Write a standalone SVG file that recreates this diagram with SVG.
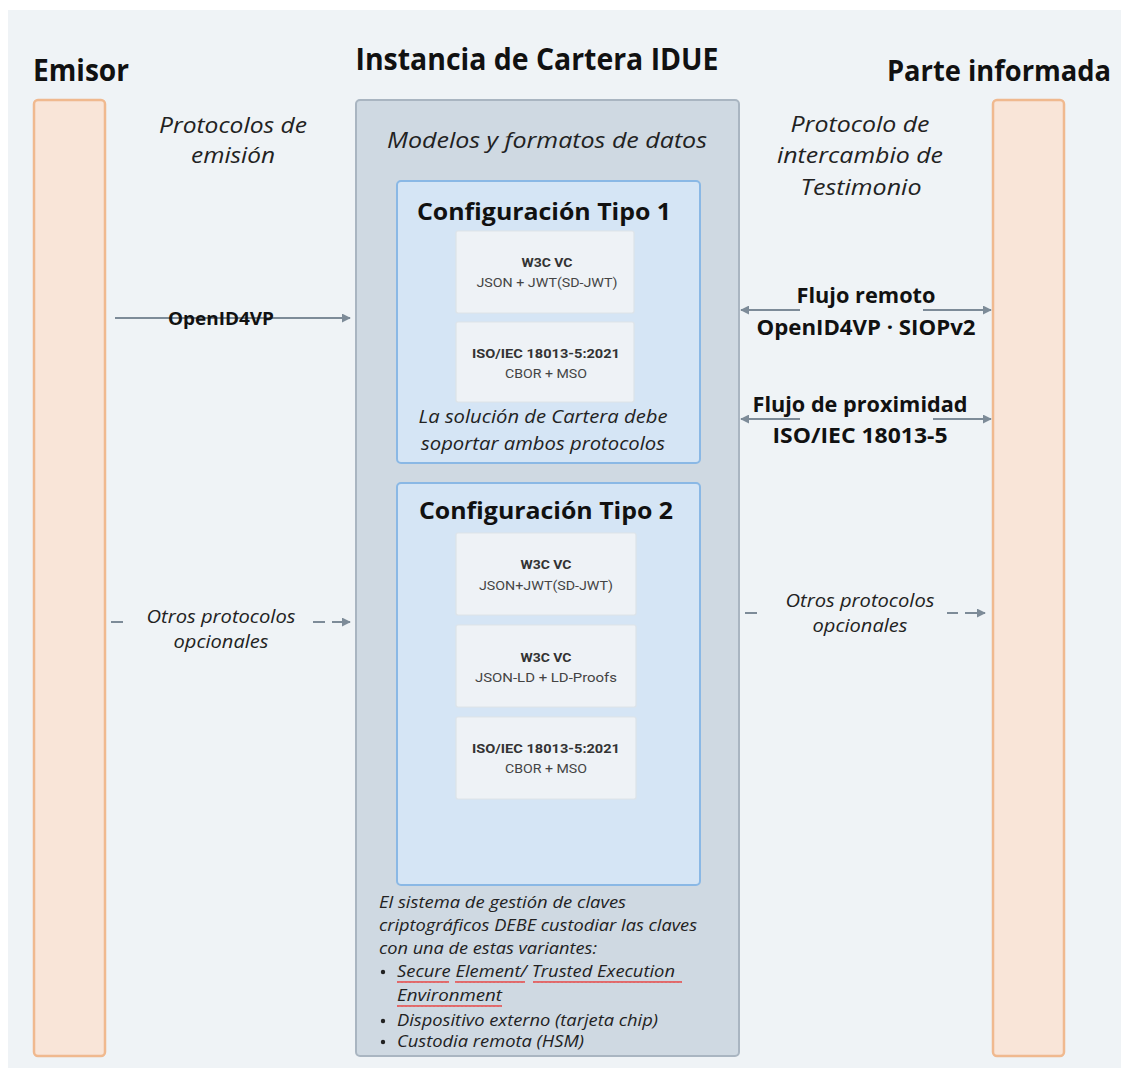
<svg xmlns="http://www.w3.org/2000/svg" width="1121" height="1068" viewBox="0 0 1121 1068">
<defs>
<marker id="ah" viewBox="0 0 10 10" refX="9" refY="5" markerWidth="4.5" markerHeight="4.5" orient="auto-start-reverse" markerUnits="strokeWidth">
<path d="M0,0 L10,5 L0,10 z" fill="#7d8b98"/>
</marker>
<pattern id="sq" width="4" height="4" patternUnits="userSpaceOnUse">
<path d="M0,3 L1,1 L2,3 L3,1 L4,3" fill="none" stroke="#e8423f" stroke-width="0.9"/>
</pattern>
</defs>
<style>
.t{font-family:"Open Sans","Noto Sans","DejaVu Sans",sans-serif;fill:#111}
.h{font-weight:700;font-size:31px}
.it{font-style:italic;fill:#222}
.b{font-weight:700}
.sm{font-family:Roboto,"Noto Sans","DejaVu Sans",sans-serif;font-size:12px;fill:#444}
.smb{font-family:Roboto,"Noto Sans","DejaVu Sans",sans-serif;font-size:12px;font-weight:700;fill:#333}
.bar{fill:#f9e5d8;stroke:#f0b98f;stroke-width:2.5}
.card{fill:#eef2f6;stroke:#dde3e8;stroke-width:1.2}
.cfg{fill:#d5e5f5;stroke:#8ab8e5;stroke-width:2}
.ln{fill:none;stroke:#7d8b98;stroke-width:2}
.dl{fill:none;stroke:#7d8b98;stroke-width:2}
</style>
<rect x="0" y="0" width="1121" height="1068" fill="#ffffff"/>
<rect x="8" y="10" width="1113" height="1058" fill="#eff3f6"/>

<g id="emisor">
<rect class="bar" x="34" y="100" width="71" height="956" rx="4"/>
<text class="t h" x="33" y="81" textLength="96" lengthAdjust="spacingAndGlyphs">Emisor</text>
</g>

<g id="parte-informada">
<rect class="bar" x="993" y="100" width="71" height="956" rx="4"/>
<text class="t b" x="999" y="81" font-size="28" text-anchor="middle" textLength="224" lengthAdjust="spacingAndGlyphs">Parte informada</text>
</g>

<g id="cartera">
<rect x="356" y="100" width="383" height="956" rx="4" fill="#cfd9e2" stroke="#a9b5c1" stroke-width="2"/>
<text class="t h" x="537" y="70" text-anchor="middle" textLength="363" lengthAdjust="spacingAndGlyphs">Instancia de Cartera IDUE</text>
<text class="t it" x="547" y="148" font-size="22" text-anchor="middle" textLength="320" lengthAdjust="spacingAndGlyphs">Modelos y formatos de datos</text>
</g>

<g id="config-tipo-1">
<rect class="cfg" x="397" y="181" width="303" height="282" rx="4"/>
<text class="t b" x="544" y="220" font-size="24" text-anchor="middle" textLength="254" lengthAdjust="spacingAndGlyphs">Configuración Tipo 1</text>
<rect class="card" x="456" y="231" width="178" height="82" rx="2"/>
<text class="smb" x="547" y="267" text-anchor="middle" textLength="51" lengthAdjust="spacingAndGlyphs">W3C VC</text>
<text class="sm" x="547" y="287" text-anchor="middle" textLength="141" lengthAdjust="spacingAndGlyphs">JSON + JWT(SD-JWT)</text>
<rect class="card" x="456" y="322" width="178" height="80" rx="2"/>
<text class="smb" x="546" y="358" text-anchor="middle" textLength="148" lengthAdjust="spacingAndGlyphs">ISO/IEC 18013-5:2021</text>
<text class="sm" x="546" y="378" text-anchor="middle" textLength="82" lengthAdjust="spacingAndGlyphs">CBOR + MSO</text>
<text class="t it" x="543" y="423" font-size="19" text-anchor="middle" textLength="249" lengthAdjust="spacingAndGlyphs">La solución de Cartera debe</text>
<text class="t it" x="543" y="450" font-size="19" text-anchor="middle" textLength="244" lengthAdjust="spacingAndGlyphs">soportar ambos protocolos</text>
</g>

<g id="config-tipo-2">
<rect class="cfg" x="397" y="483" width="303" height="402" rx="4"/>
<text class="t b" x="546" y="519" font-size="24" text-anchor="middle" textLength="254" lengthAdjust="spacingAndGlyphs">Configuración Tipo 2</text>
<rect class="card" x="456" y="533" width="180" height="82" rx="2"/>
<text class="smb" x="546" y="569" text-anchor="middle" textLength="51" lengthAdjust="spacingAndGlyphs">W3C VC</text>
<text class="sm" x="546" y="590" text-anchor="middle" textLength="134" lengthAdjust="spacingAndGlyphs">JSON+JWT(SD-JWT)</text>
<rect class="card" x="456" y="625" width="180" height="82" rx="2"/>
<text class="smb" x="546" y="662" text-anchor="middle" textLength="51" lengthAdjust="spacingAndGlyphs">W3C VC</text>
<text class="sm" x="546" y="682" text-anchor="middle" textLength="142" lengthAdjust="spacingAndGlyphs">JSON-LD + LD-Proofs</text>
<rect class="card" x="456" y="717" width="180" height="82" rx="2"/>
<text class="smb" x="546" y="753" text-anchor="middle" textLength="148" lengthAdjust="spacingAndGlyphs">ISO/IEC 18013-5:2021</text>
<text class="sm" x="546" y="773" text-anchor="middle" textLength="82" lengthAdjust="spacingAndGlyphs">CBOR + MSO</text>
</g>

<g id="gestion-claves">
<text class="t it" x="379" y="908" font-size="16" textLength="247" lengthAdjust="spacingAndGlyphs">El sistema de gestión de claves</text>
<text class="t it" x="379" y="931" font-size="16" textLength="318" lengthAdjust="spacingAndGlyphs">criptográficos DEBE custodiar las claves</text>
<text class="t it" x="379" y="954" font-size="16" textLength="218" lengthAdjust="spacingAndGlyphs">con una de estas variantes:</text>
<circle cx="383" cy="972" r="2.2" fill="#222"/>
<text class="t it" x="397" y="977" font-size="16" textLength="278" lengthAdjust="spacingAndGlyphs">Secure Element/ Trusted Execution</text>
<text class="t it" x="397" y="1001" font-size="16" textLength="105" lengthAdjust="spacingAndGlyphs">Environment</text>
<circle cx="383" cy="1021" r="2.2" fill="#222"/>
<text class="t it" x="397" y="1026" font-size="16" textLength="261" lengthAdjust="spacingAndGlyphs">Dispositivo externo (tarjeta chip)</text>
<circle cx="383" cy="1042" r="2.2" fill="#222"/>
<text class="t it" x="397" y="1047" font-size="16" textLength="187" lengthAdjust="spacingAndGlyphs">Custodia remota (HSM)</text>
<rect x="397" y="981" width="52" height="4" fill="url(#sq)"/>
<rect x="455" y="981" width="70" height="4" fill="url(#sq)"/>
<rect x="533" y="981" width="149" height="4" fill="url(#sq)"/>
<rect x="397" y="1005" width="105" height="4" fill="url(#sq)"/>
</g>

<g id="labels">
<text class="t it" x="233" y="133" font-size="22" text-anchor="middle" textLength="148" lengthAdjust="spacingAndGlyphs">Protocolos de</text>
<text class="t it" x="233" y="163" font-size="22" text-anchor="middle" textLength="84" lengthAdjust="spacingAndGlyphs">emisión</text>
<text class="t it" x="860" y="132" font-size="22" text-anchor="middle" textLength="139" lengthAdjust="spacingAndGlyphs">Protocolo de</text>
<text class="t it" x="860" y="163" font-size="22" text-anchor="middle" textLength="166" lengthAdjust="spacingAndGlyphs">intercambio de</text>
<text class="t it" x="861" y="195" font-size="22" text-anchor="middle" textLength="121" lengthAdjust="spacingAndGlyphs">Testimonio</text>
</g>

<g id="connectors">
<line class="ln" x1="115" y1="318" x2="350" y2="318" marker-end="url(#ah)"/>
<text class="t b" x="221" y="325" font-size="17" text-anchor="middle" textLength="106" lengthAdjust="spacingAndGlyphs">OpenID4VP</text>

<line class="ln" x1="800" y1="310" x2="741" y2="310" marker-end="url(#ah)"/>
<line class="ln" x1="923" y1="310" x2="991" y2="310" marker-end="url(#ah)"/>
<text class="t b" x="866" y="303" font-size="21" text-anchor="middle" textLength="139" lengthAdjust="spacingAndGlyphs">Flujo remoto</text>
<text class="t b" x="866" y="335" font-size="21" text-anchor="middle" textLength="219" lengthAdjust="spacingAndGlyphs">OpenID4VP · SIOPv2</text>

<line class="ln" x1="800" y1="419" x2="741" y2="419" marker-end="url(#ah)"/>
<line class="ln" x1="933" y1="419" x2="991" y2="419" marker-end="url(#ah)"/>
<text class="t b" x="860" y="412" font-size="21" text-anchor="middle" textLength="215" lengthAdjust="spacingAndGlyphs">Flujo de proximidad</text>
<text class="t b" x="860" y="443" font-size="21" text-anchor="middle" textLength="175" lengthAdjust="spacingAndGlyphs">ISO/IEC 18013-5</text>

<line class="dl" x1="111" y1="622" x2="123" y2="622"/>
<line class="dl" x1="313" y1="622" x2="325" y2="622"/>
<line class="dl" x1="332" y1="622" x2="350" y2="622" marker-end="url(#ah)"/>
<text class="t it" x="221" y="623" font-size="19" text-anchor="middle" textLength="149" lengthAdjust="spacingAndGlyphs">Otros protocolos</text>
<text class="t it" x="221" y="648" font-size="19" text-anchor="middle" textLength="95" lengthAdjust="spacingAndGlyphs">opcionales</text>

<line class="dl" x1="745" y1="613" x2="757" y2="613"/>
<line class="dl" x1="947" y1="613" x2="958" y2="613"/>
<line class="dl" x1="965" y1="613" x2="985" y2="613" marker-end="url(#ah)"/>
<text class="t it" x="860" y="607" font-size="18" text-anchor="middle" textLength="149" lengthAdjust="spacingAndGlyphs">Otros protocolos</text>
<text class="t it" x="860" y="632" font-size="18" text-anchor="middle" textLength="95" lengthAdjust="spacingAndGlyphs">opcionales</text>
</g>
</svg>
